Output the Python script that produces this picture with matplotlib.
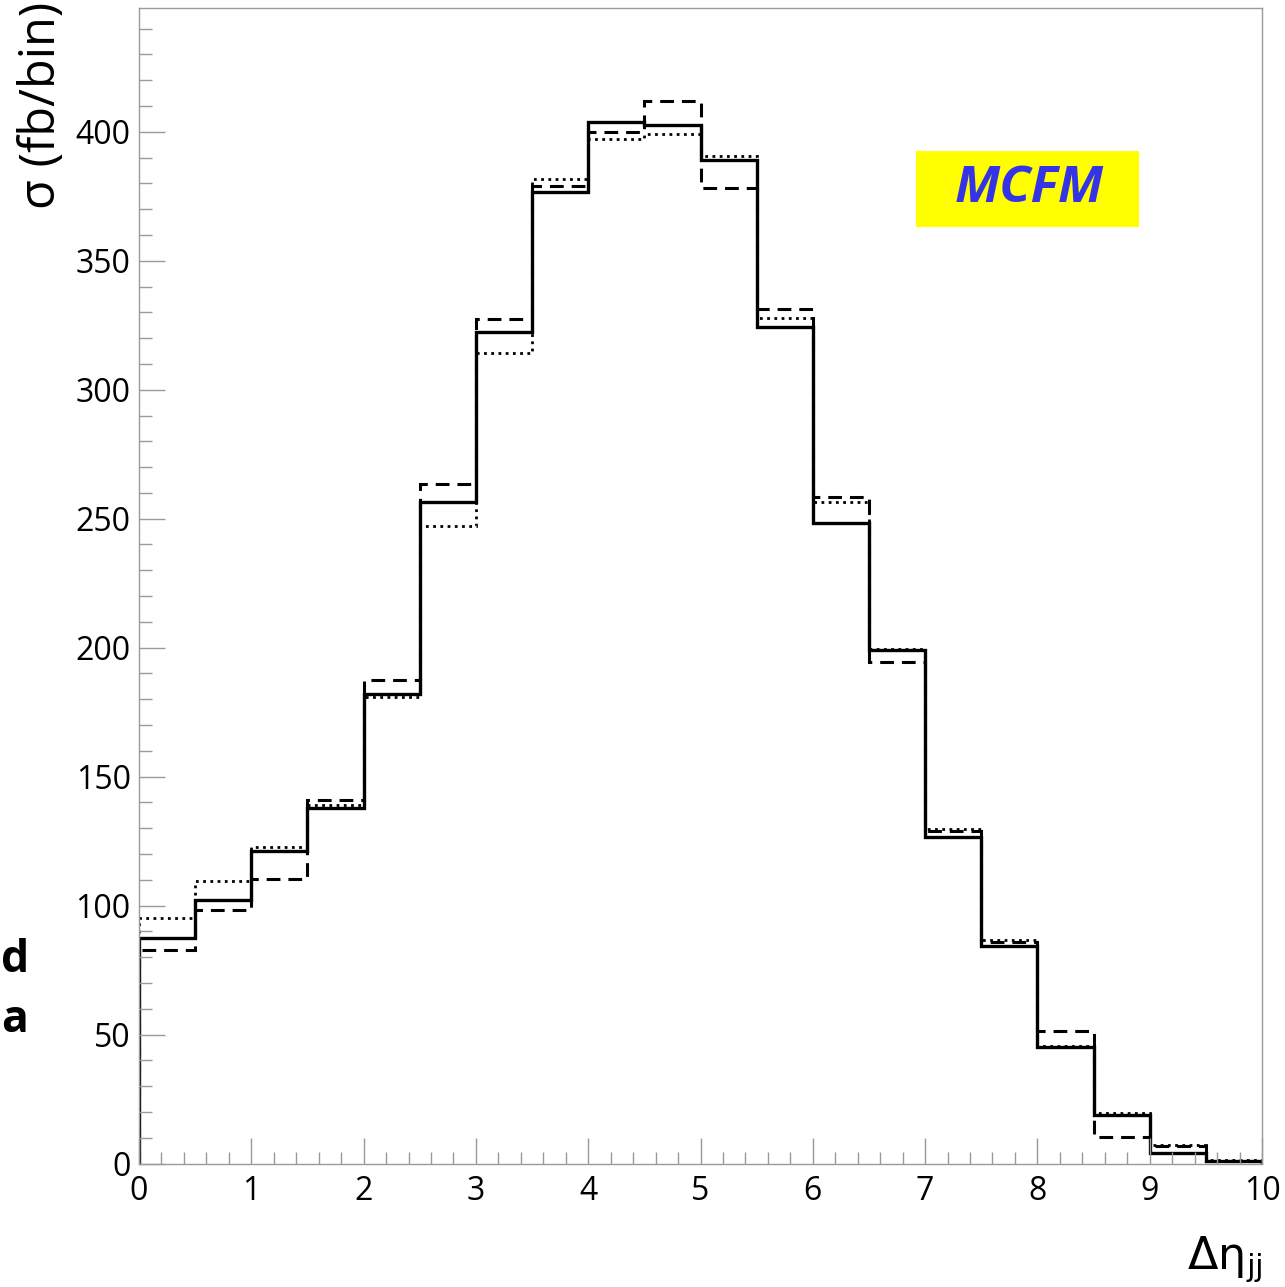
"""Delta-eta_jj cross-section histogram (MCFM), three predictions as step lines."""

import matplotlib
matplotlib.use("Agg")
import matplotlib.pyplot as plt
import numpy as np
from matplotlib.patches import Rectangle
from matplotlib.ticker import MultipleLocator

# bin edges in delta eta_jj
edges = np.arange(0.0, 10.01, 0.5)

# cross section per bin (fb/bin)
sigma_solid = [87.6, 102.2, 121.3, 137.9, 182.0, 256.5, 322.5, 376.8, 403.7, 402.5,
               388.9, 324.2, 248.3, 198.9, 126.7, 84.5, 45.3, 18.8, 4.0, 1.1]
sigma_dashed = [82.8, 98.3, 110.3, 141.0, 187.5, 263.5, 327.4, 378.8, 399.9, 412.0,
                378.2, 331.2, 258.3, 194.4, 129.0, 86.0, 51.4, 10.2, 6.8, 1.0]
sigma_dotted = [95.3, 109.7, 122.9, 139.0, 181.0, 247.0, 314.2, 381.6, 397.2, 399.1,
                390.7, 328.0, 256.5, 199.5, 129.5, 86.5, 45.5, 19.5, 7.0, 1.2]

plt.rcParams["font.family"] = ["Open Sans", "DejaVu Sans"]
plt.rcParams["mathtext.fontset"] = "dejavusans"

W, H = 1285, 1287
fig = plt.figure(figsize=(W / 100, H / 100), dpi=100)
ax = fig.add_axes([139 / W, 1 - 1163.5 / H, (1262 - 139) / W, (1163.5 - 8) / H])

ax.stairs(sigma_dotted, edges, baseline=0, color="black", lw=2.0,
          linestyle=(0, (1.0, 1.6)))
ax.stairs(sigma_dashed, edges, baseline=0, color="black", lw=2.2,
          linestyle=(0, (4.5, 2.6)))
ax.stairs(sigma_solid, edges, baseline=0, color="black", lw=2.4)

ax.set_xlim(0, 10)
ax.set_ylim(0, 448)

ax.xaxis.set_major_locator(MultipleLocator(1))
ax.xaxis.set_minor_locator(MultipleLocator(0.2))
ax.yaxis.set_major_locator(MultipleLocator(50))
ax.yaxis.set_minor_locator(MultipleLocator(10))
ax.tick_params(which="both", direction="in", color="#9a9a9a", width=1.0,
               labelsize=23, top=False, right=False)
ax.tick_params(which="major", length=19, pad=6)
ax.tick_params(which="minor", length=9)
ax.tick_params(axis="x", pad=8)
for sp in ax.spines.values():
    sp.set_color("#9a9a9a")
    sp.set_linewidth(1.0)

fig.text(42 / W, 1 - 2 / H, "σ (fb/bin)", rotation=90, fontsize=35,
         ha="center", va="top")
fig.text(1262 / W, 1 - 1284 / H, r"$\Delta\mathrm{\eta}_{\mathrm{jj}}$",
         fontsize=32, ha="right", va="bottom")

# MCFM label box
fig.patches.append(Rectangle((916 / W, 1 - 227 / H), (1139 - 916) / W, (227 - 151) / H,
                             transform=fig.transFigure, facecolor="#ffff00",
                             edgecolor="none", zorder=3))
fig.text(1029 / W, 1 - 189 / H, "MCFM", fontsize=37, color="#3434e6",
         fontweight="bold", fontstyle="italic", ha="center", va="center", zorder=4)

# fragments of text at the left edge
fig.text(1 / W, 1 - 960 / H, "d", fontsize=32, fontweight="bold",
         ha="left", va="center")
fig.text(1 / W, 1 - 1020 / H, "a", fontsize=32, fontweight="bold",
         ha="left", va="center")

fig.savefig("out.png", dpi=100, facecolor="white")
